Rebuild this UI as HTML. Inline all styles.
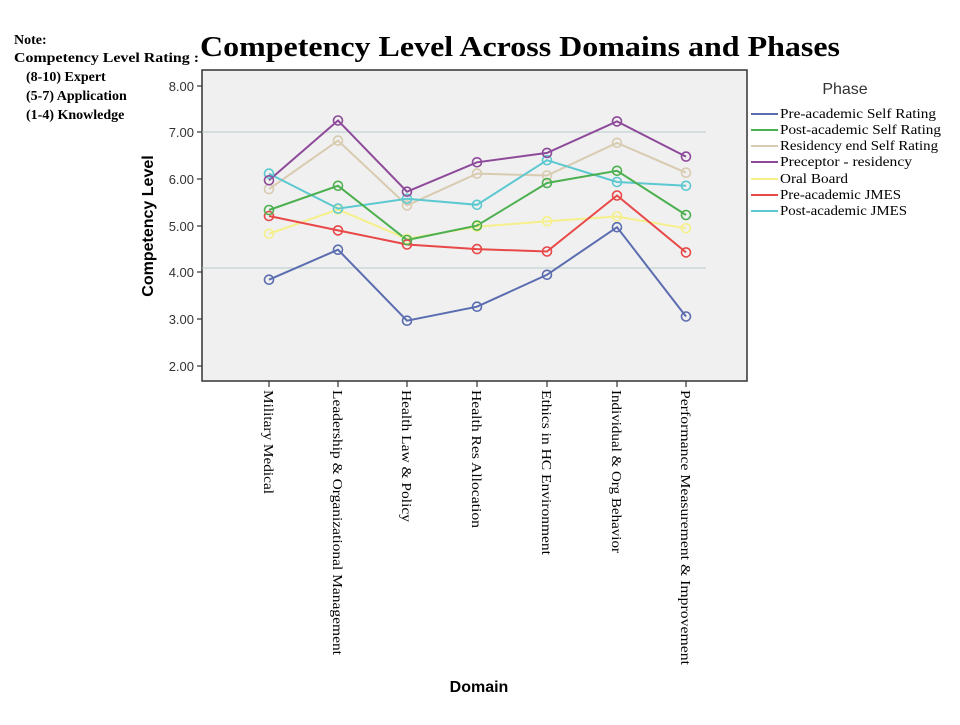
<!DOCTYPE html>
<html><head><meta charset="utf-8"><style>
body{margin:0;background:#fff;width:960px;height:720px;overflow:hidden}
</style></head><body>
<svg width="960" height="720" xmlns="http://www.w3.org/2000/svg">
<rect width="960" height="720" fill="#fff"/>
<g font-family="Liberation Serif, serif" font-weight="bold" font-size="14" fill="#000">
<text x="14" y="44">Note:</text>
<text x="14" y="62" textLength="185" lengthAdjust="spacingAndGlyphs">Competency  Level Rating :</text>
<text x="26" y="81">(8-10) Expert</text>
<text x="26" y="100">(5-7) Application</text>
<text x="26" y="119">(1-4) Knowledge</text>
</g>
<text x="200" y="56" font-family="Liberation Serif, serif" font-weight="bold" font-size="28" textLength="640" lengthAdjust="spacingAndGlyphs">Competency Level Across Domains and Phases</text>
<rect x="202" y="70" width="545" height="311" fill="#f0f0f0" stroke="#333" stroke-width="1.5"/>
<line x1="202" y1="132" x2="706" y2="132" stroke="#b8cccc" stroke-width="1"/>
<line x1="202" y1="268" x2="706" y2="268" stroke="#b8cccc" stroke-width="1"/>
<g font-family="Liberation Sans, sans-serif" font-size="13" fill="#333" text-anchor="end">
<text x="194" y="91">8.00</text><text x="194" y="137">7.00</text><text x="194" y="184">6.00</text>
<text x="194" y="231">5.00</text><text x="194" y="277">4.00</text><text x="194" y="324">3.00</text><text x="194" y="371">2.00</text>
</g>
<g stroke="#333" stroke-width="1.2">
<line x1="197" y1="86" x2="202" y2="86"/><line x1="197" y1="132" x2="202" y2="132"/><line x1="197" y1="179" x2="202" y2="179"/><line x1="197" y1="226" x2="202" y2="226"/><line x1="197" y1="272" x2="202" y2="272"/><line x1="197" y1="319" x2="202" y2="319"/><line x1="197" y1="366" x2="202" y2="366"/>
<line x1="269" y1="381" x2="269" y2="387"/><line x1="338" y1="381" x2="338" y2="387"/><line x1="407" y1="381" x2="407" y2="387"/><line x1="477" y1="381" x2="477" y2="387"/><line x1="547" y1="381" x2="547" y2="387"/><line x1="617" y1="381" x2="617" y2="387"/><line x1="686" y1="381" x2="686" y2="387"/>
</g>
<text transform="translate(153,226) rotate(-90)" text-anchor="middle" font-family="Liberation Sans, sans-serif" font-weight="bold" font-size="16">Competency Level</text>
<text x="479" y="692" text-anchor="middle" font-family="Liberation Sans, sans-serif" font-weight="bold" font-size="16">Domain</text>
<g font-family="Liberation Serif, serif" font-size="14" fill="#000">
<text transform="translate(264,390) rotate(90)" textLength="104" lengthAdjust="spacingAndGlyphs">Military Medical</text>
<text transform="translate(333,390) rotate(90)" textLength="265" lengthAdjust="spacingAndGlyphs">Leadership &amp; Organizational Management</text>
<text transform="translate(402,390) rotate(90)" textLength="132" lengthAdjust="spacingAndGlyphs">Health Law &amp; Policy</text>
<text transform="translate(472,390) rotate(90)" textLength="138" lengthAdjust="spacingAndGlyphs">Health Res Allocation</text>
<text transform="translate(542,390) rotate(90)" textLength="165" lengthAdjust="spacingAndGlyphs">Ethics in HC Environment</text>
<text transform="translate(612,390) rotate(90)" textLength="163" lengthAdjust="spacingAndGlyphs">Individual &amp; Org Behavior</text>
<text transform="translate(681,390) rotate(90)" textLength="275" lengthAdjust="spacingAndGlyphs">Performance Measurement &amp; Improvement</text>
</g>
<text x="845" y="94" text-anchor="middle" font-family="Liberation Sans, sans-serif" font-size="16" fill="#333">Phase</text>
<g font-family="Liberation Serif, serif" font-size="14" fill="#000">
<g stroke-width="2">
<line x1="751" y1="114" x2="778" y2="114" stroke="#5b6db0"/>
<line x1="751" y1="130" x2="778" y2="130" stroke="#4cb050"/>
<line x1="751" y1="146" x2="778" y2="146" stroke="#d8cbb0"/>
<line x1="751" y1="162" x2="778" y2="162" stroke="#8e4a9a"/>
<line x1="751" y1="179" x2="778" y2="179" stroke="#f5f08a"/>
<line x1="751" y1="195" x2="778" y2="195" stroke="#e84848"/>
<line x1="751" y1="211" x2="778" y2="211" stroke="#5cc8d0"/>
</g>
<text x="780" y="118" textLength="156" lengthAdjust="spacingAndGlyphs">Pre-academic Self Rating</text>
<text x="780" y="134" textLength="161" lengthAdjust="spacingAndGlyphs">Post-academic Self Rating</text>
<text x="780" y="150" textLength="158" lengthAdjust="spacingAndGlyphs">Residency end Self Rating</text>
<text x="780" y="166" textLength="132" lengthAdjust="spacingAndGlyphs">Preceptor - residency</text>
<text x="780" y="183" textLength="68" lengthAdjust="spacingAndGlyphs">Oral Board</text>
<text x="780" y="199" textLength="121" lengthAdjust="spacingAndGlyphs">Pre-academic JMES</text>
<text x="780" y="215" textLength="127" lengthAdjust="spacingAndGlyphs">Post-academic JMES</text>
</g>
<g fill="none" stroke-width="2">
<polyline stroke="#f5f08a" points="269,233.8 338,209.5 407,238.9 477,226.8 547,221.2 617,216.5 686,228.3"/>
<polyline stroke="#d8cbb0" points="269,189.1 338,140.6 407,205.4 477,173.6 547,175.5 617,142.8 686,172.7"/>
<polyline stroke="#5cc8d0" points="269,173.6 338,208.6 407,198.8 477,204.8 547,160.2 617,182.0 686,185.8"/>
<polyline stroke="#e84848" points="269,216.0 338,230.4 407,244.5 477,249.1 547,251.5 617,195.5 686,252.4"/>
<polyline stroke="#4cb050" points="269,210.0 338,185.8 407,240.0 477,225.6 547,183.0 617,170.8 686,215.0"/>
<polyline stroke="#8e4a9a" points="269,180.3 338,120.5 407,191.7 477,162.3 547,152.9 617,121.4 686,156.6"/>
<polyline stroke="#5b6db0" points="269,279.7 338,249.7 407,320.7 477,306.7 547,274.8 617,227.2 686,316.5"/>
</g>
<g fill="none" stroke-width="1.6">
<g stroke="#f5f08a"><circle cx="269" cy="233.8" r="4.5"/><circle cx="338" cy="209.5" r="4.5"/><circle cx="407" cy="238.9" r="4.5"/><circle cx="477" cy="226.8" r="4.5"/><circle cx="547" cy="221.2" r="4.5"/><circle cx="617" cy="216.5" r="4.5"/><circle cx="686" cy="228.3" r="4.5"/></g>
<g stroke="#d8cbb0"><circle cx="269" cy="189.1" r="4.5"/><circle cx="338" cy="140.6" r="4.5"/><circle cx="407" cy="205.4" r="4.5"/><circle cx="477" cy="173.6" r="4.5"/><circle cx="547" cy="175.5" r="4.5"/><circle cx="617" cy="142.8" r="4.5"/><circle cx="686" cy="172.7" r="4.5"/></g>
<g stroke="#5cc8d0"><circle cx="269" cy="173.6" r="4.5"/><circle cx="338" cy="208.6" r="4.5"/><circle cx="407" cy="198.8" r="4.5"/><circle cx="477" cy="204.8" r="4.5"/><circle cx="547" cy="160.2" r="4.5"/><circle cx="617" cy="182.0" r="4.5"/><circle cx="686" cy="185.8" r="4.5"/></g>
<g stroke="#e84848"><circle cx="269" cy="216.0" r="4.5"/><circle cx="338" cy="230.4" r="4.5"/><circle cx="407" cy="244.5" r="4.5"/><circle cx="477" cy="249.1" r="4.5"/><circle cx="547" cy="251.5" r="4.5"/><circle cx="617" cy="195.5" r="4.5"/><circle cx="686" cy="252.4" r="4.5"/></g>
<g stroke="#4cb050"><circle cx="269" cy="210.0" r="4.5"/><circle cx="338" cy="185.8" r="4.5"/><circle cx="407" cy="240.0" r="4.5"/><circle cx="477" cy="225.6" r="4.5"/><circle cx="547" cy="183.0" r="4.5"/><circle cx="617" cy="170.8" r="4.5"/><circle cx="686" cy="215.0" r="4.5"/></g>
<g stroke="#8e4a9a"><circle cx="269" cy="180.3" r="4.5"/><circle cx="338" cy="120.5" r="4.5"/><circle cx="407" cy="191.7" r="4.5"/><circle cx="477" cy="162.3" r="4.5"/><circle cx="547" cy="152.9" r="4.5"/><circle cx="617" cy="121.4" r="4.5"/><circle cx="686" cy="156.6" r="4.5"/></g>
<g stroke="#5b6db0"><circle cx="269" cy="279.7" r="4.5"/><circle cx="338" cy="249.7" r="4.5"/><circle cx="407" cy="320.7" r="4.5"/><circle cx="477" cy="306.7" r="4.5"/><circle cx="547" cy="274.8" r="4.5"/><circle cx="617" cy="227.2" r="4.5"/><circle cx="686" cy="316.5" r="4.5"/></g>
</g>
</svg>
</body></html>
